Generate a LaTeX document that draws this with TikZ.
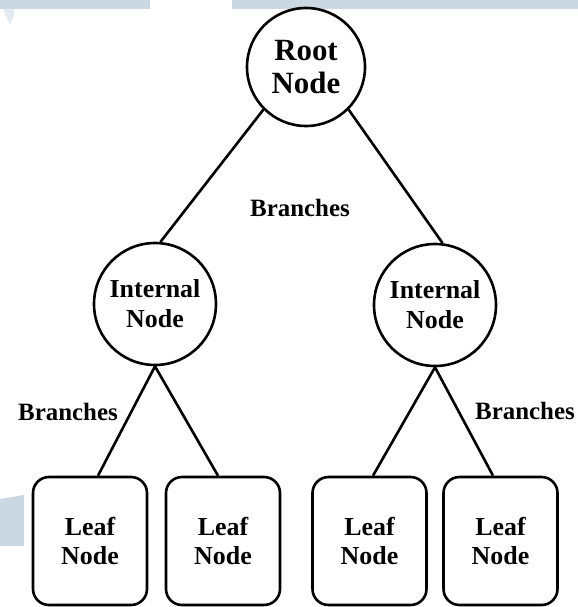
\documentclass[tikz,border=0pt]{standalone}
\usepackage{fontspec}
\setmainfont{Liberation Serif}
\definecolor{bgblue}{RGB}{203,216,228}
\definecolor{bgfade}{RGB}{226,233,240}
\begin{document}
\begin{tikzpicture}[x=1bp,y=-1bp,
  treeline/.style={line width=2.6bp},
  circnode/.style={circle,draw,line width=2.6bp,inner sep=0pt,align=center,font=\bfseries\fontsize{26}{30}\selectfont},
  leafbox/.style={rectangle,draw,line width=2.6bp,rounded corners=16bp,minimum width=114bp,minimum height=128bp,inner sep=0pt,align=center,font=\bfseries\fontsize{26}{30}\selectfont},
  branchlabel/.style={inner sep=0pt,font=\bfseries\fontsize{25}{28}\selectfont}]
\useasboundingbox (0,0) rectangle (578,607);
% background decoration
\fill[bgblue] (0,0) rectangle (150,9);
\fill[bgfade] (3,9) -- (14,9) -- (14,15) -- (10,25) -- cycle;
\fill[bgblue] (232,0) rectangle (578,9);
\fill[bgblue] (0,499) -- (24,495) -- (24,546) -- (0,546) -- cycle;
% nodes
\node[circnode,minimum size=118bp,font=\bfseries\fontsize{31}{33}\selectfont] (root) at (306,67) {Root\\Node};
\node[circnode,minimum size=122bp] (il) at (155,304) {Internal\\Node};
\node[circnode,minimum size=122bp] (ir) at (435,305) {Internal\\Node};
\node[leafbox] (l1) at (90,541) {Leaf\\Node};
\node[leafbox] (l2) at (223,541) {Leaf\\Node};
\node[leafbox] (l3) at (369.5,541) {Leaf\\Node};
\node[leafbox] (l4) at (500.5,541) {Leaf\\Node};
% labels
\node[branchlabel] (bm) at (300,208) {Branches};
\node[branchlabel] (bl) at (68,412) {Branches};
\node[branchlabel] (br) at (525,411) {Branches};
% connectors
\draw[treeline] (root.225) -- (il.85);
\draw[treeline] (root.-45) -- (ir.83);
\draw[treeline] (il.south) -- ([xshift=8bp]l1.north);
\draw[treeline] (il.south) -- ([xshift=-5bp]l2.north);
\draw[treeline] (ir.south) -- ([xshift=3.5bp]l3.north);
\draw[treeline] (ir.south) -- ([xshift=-7.5bp]l4.north);
\end{tikzpicture}
\end{document}
